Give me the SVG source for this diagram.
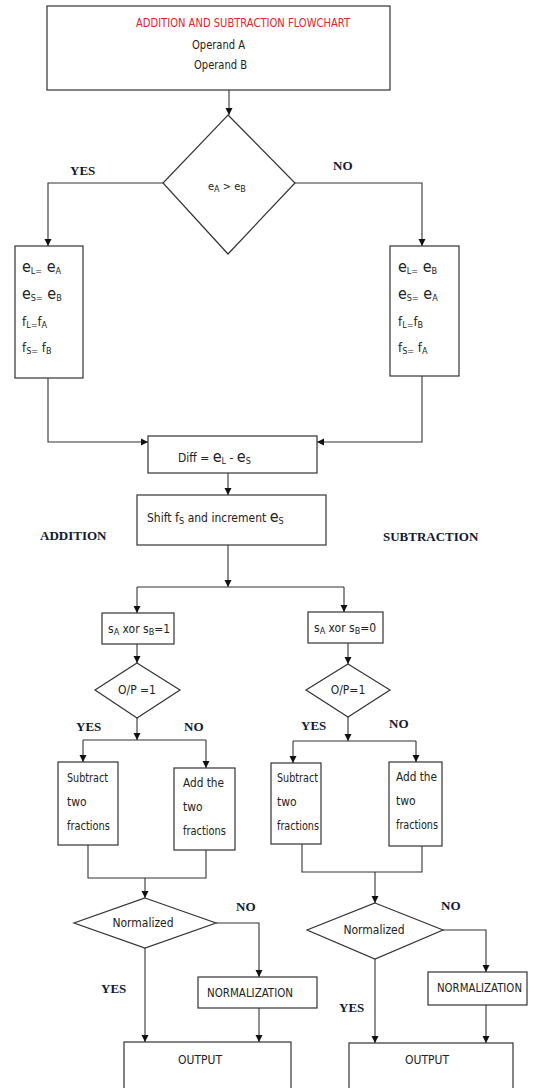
<svg xmlns="http://www.w3.org/2000/svg" width="544" height="1088" viewBox="0 0 544 1088">
<style>
.box{fill:#fff;stroke:#333;stroke-width:1.2}
.ln{fill:none;stroke:#333;stroke-width:1.1}
.t{font-family:"Liberation Sans Narrow","DejaVu Sans Condensed","Liberation Sans",Arial,sans-serif;font-stretch:condensed;font-size:12px;fill:#222}
.e{font-size:16px}
.f{font-size:13px}
.s{font-size:9px}
.lb{font-family:"Liberation Serif","Times New Roman",serif;font-weight:bold;font-size:13px;fill:#111a33}
</style>
<defs>
<marker id="ar" markerWidth="8" markerHeight="8" refX="7" refY="4" orient="auto" markerUnits="userSpaceOnUse">
<path d="M0,0.5 L7,4 L0,7.5 z" fill="#111"/>
</marker>
</defs>
<rect width="544" height="1088" fill="#fff"/>

<g id="connectors">
<path class="ln" d="M229,90 V115" marker-end="url(#ar)"/>
<path class="ln" d="M163,183 H48 V246" marker-end="url(#ar)"/>
<path class="ln" d="M295,183 H422 V246" marker-end="url(#ar)"/>
<path class="ln" d="M48,378 V442 H148" marker-end="url(#ar)"/>
<path class="ln" d="M422,376 V442 H317" marker-end="url(#ar)"/>
<path class="ln" d="M228,473 V495" marker-end="url(#ar)"/>
<path class="ln" d="M228,545 V587" marker-end="url(#ar)"/>
<path class="ln" d="M137,587 H344"/>
<path class="ln" d="M137,587 V613" marker-end="url(#ar)"/>
<path class="ln" d="M344,587 V612" marker-end="url(#ar)"/>
<path class="ln" d="M137,644 V663" marker-end="url(#ar)"/>
<path class="ln" d="M348,643 V664" marker-end="url(#ar)"/>
<path class="ln" d="M137,718 V740" marker-end="url(#ar)"/>
<path class="ln" d="M83,740 H206"/>
<path class="ln" d="M83,740 V762" marker-end="url(#ar)"/>
<path class="ln" d="M206,740 V768" marker-end="url(#ar)"/>
<path class="ln" d="M348,717 V741" marker-end="url(#ar)"/>
<path class="ln" d="M293,741 H416"/>
<path class="ln" d="M293,741 V763" marker-end="url(#ar)"/>
<path class="ln" d="M416,741 V762" marker-end="url(#ar)"/>
<path class="ln" d="M88,845 V878 H206 V850"/>
<path class="ln" d="M145,878 V898" marker-end="url(#ar)"/>
<path class="ln" d="M302,844 V872 H422 V846"/>
<path class="ln" d="M375,872 V903" marker-end="url(#ar)"/>
<path class="ln" d="M216,923 H259 V977" marker-end="url(#ar)"/>
<path class="ln" d="M145,948 V1042" marker-end="url(#ar)"/>
<path class="ln" d="M259,1008 V1042" marker-end="url(#ar)"/>
<path class="ln" d="M443,930 H486 V972" marker-end="url(#ar)"/>
<path class="ln" d="M375,959 V1043" marker-end="url(#ar)"/>
<path class="ln" d="M486,1005 V1043" marker-end="url(#ar)"/>
</g>

<g id="start">
<rect class="box" x="47" y="6" width="343" height="84"/>
<text class="t" x="136" y="27" style="fill:#e8232a" textLength="214" lengthAdjust="spacingAndGlyphs">ADDITION AND SUBTRACTION  FLOWCHART</text>
<text class="t" x="192" y="49" textLength="53" lengthAdjust="spacingAndGlyphs">Operand A</text>
<text class="t" x="194" y="69" textLength="53" lengthAdjust="spacingAndGlyphs">Operand B</text>
</g>

<g id="compare">
<polygon class="box" points="228,115 295,183 228,254 163,183"/>
<text class="t" x="208" y="190" style="font-size:11px">e<tspan class="s" dy="2">A</tspan><tspan dy="-2"> &gt; e</tspan><tspan class="s" dy="2">B</tspan></text>
</g>

<g id="yesBox">
<rect class="box" x="15" y="246" width="68" height="132"/>
<text class="t" x="22" y="272"><tspan class="e">e</tspan><tspan class="s" dy="2">L=</tspan><tspan class="e" dy="-2"> e</tspan><tspan class="s" dy="2">A</tspan></text>
<text class="t" x="22" y="299"><tspan class="e">e</tspan><tspan class="s" dy="2">S=</tspan><tspan class="e" dy="-2"> e</tspan><tspan class="s" dy="2">B</tspan></text>
<text class="t" x="22" y="326"><tspan class="f">f</tspan><tspan class="s" dy="2">L=</tspan><tspan class="f" dy="-2">f</tspan><tspan class="s" dy="2">A</tspan></text>
<text class="t" x="22" y="352"><tspan class="f">f</tspan><tspan class="s" dy="2">S=</tspan><tspan class="f" dy="-2"> f</tspan><tspan class="s" dy="2">B</tspan></text>
</g>

<g id="noBox">
<rect class="box" x="390" y="246" width="69" height="130"/>
<text class="t" x="398" y="272"><tspan class="e">e</tspan><tspan class="s" dy="2">L=</tspan><tspan class="e" dy="-2"> e</tspan><tspan class="s" dy="2">B</tspan></text>
<text class="t" x="398" y="299"><tspan class="e">e</tspan><tspan class="s" dy="2">S=</tspan><tspan class="e" dy="-2"> e</tspan><tspan class="s" dy="2">A</tspan></text>
<text class="t" x="398" y="326"><tspan class="f">f</tspan><tspan class="s" dy="2">L=</tspan><tspan class="f" dy="-2">f</tspan><tspan class="s" dy="2">B</tspan></text>
<text class="t" x="398" y="352"><tspan class="f">f</tspan><tspan class="s" dy="2">S=</tspan><tspan class="f" dy="-2"> f</tspan><tspan class="s" dy="2">A</tspan></text>
</g>

<g id="diff">
<rect class="box" x="148" y="436" width="169" height="37"/>
<text class="t" x="178" y="462">Diff = <tspan class="e">e</tspan><tspan class="s" dy="2">L</tspan><tspan dy="-2"> - </tspan><tspan class="e">e</tspan><tspan class="s" dy="2">S</tspan></text>
</g>

<g id="shift">
<rect class="box" x="137" y="495" width="189" height="50"/>
<text class="t" x="147" y="522">Shift  <tspan class="f">f</tspan><tspan class="s" dy="2">S</tspan><tspan dy="-2"> and increment </tspan><tspan class="e">e</tspan><tspan class="s" dy="2">S</tspan></text>
</g>

<g id="labels">
<text class="lb" x="70" y="175">YES</text>
<text class="lb" x="333" y="170">NO</text>
<text class="lb" x="40" y="540">ADDITION</text>
<text class="lb" x="383" y="541">SUBTRACTION</text>
<text class="lb" x="76" y="731">YES</text>
<text class="lb" x="184" y="731">NO</text>
<text class="lb" x="301" y="730">YES</text>
<text class="lb" x="389" y="728">NO</text>
<text class="lb" x="236" y="911">NO</text>
<text class="lb" x="101" y="993">YES</text>
<text class="lb" x="441" y="910">NO</text>
<text class="lb" x="339" y="1012">YES</text>
</g>

<g id="xor1">
<rect class="box" x="102" y="613" width="72" height="31"/>
<text class="t" x="108" y="633">s<tspan class="s" dy="2">A</tspan><tspan dy="-2"> xor s</tspan><tspan class="s" dy="2">B</tspan><tspan dy="-2">=1</tspan></text>
</g>
<g id="xor0">
<rect class="box" x="308" y="612" width="75" height="31"/>
<text class="t" x="314" y="632">s<tspan class="s" dy="2">A</tspan><tspan dy="-2"> xor s</tspan><tspan class="s" dy="2">B</tspan><tspan dy="-2">=0</tspan></text>
</g>

<g id="op1">
<polygon class="box" points="137,663 180,690 137,718 95,690"/>
<text class="t" x="137" y="694" text-anchor="middle">O/P =1</text>
</g>
<g id="op0">
<polygon class="box" points="348,664 390,690 348,717 306,690"/>
<text class="t" x="348" y="694" text-anchor="middle">O/P=1</text>
</g>

<g id="sub1">
<rect class="box" x="58" y="762" width="60" height="83"/>
<text class="t" x="67" y="782" textLength="41" lengthAdjust="spacingAndGlyphs">Subtract</text>
<text class="t" x="67" y="806">two</text>
<text class="t" x="67" y="830" textLength="43" lengthAdjust="spacingAndGlyphs">fractions</text>
</g>
<g id="add1">
<rect class="box" x="174" y="768" width="61" height="82"/>
<text class="t" x="183" y="787" textLength="41" lengthAdjust="spacingAndGlyphs">Add the</text>
<text class="t" x="183" y="811">two</text>
<text class="t" x="183" y="835" textLength="43" lengthAdjust="spacingAndGlyphs">fractions</text>
</g>
<g id="sub0">
<rect class="box" x="271" y="763" width="50" height="81"/>
<text class="t" x="277" y="782" textLength="41" lengthAdjust="spacingAndGlyphs">Subtract</text>
<text class="t" x="277" y="806">two</text>
<text class="t" x="277" y="830" textLength="42" lengthAdjust="spacingAndGlyphs">fractions</text>
</g>
<g id="add0">
<rect class="box" x="389" y="762" width="53" height="84"/>
<text class="t" x="396" y="781" textLength="41" lengthAdjust="spacingAndGlyphs">Add the</text>
<text class="t" x="396" y="805">two</text>
<text class="t" x="396" y="829" textLength="42" lengthAdjust="spacingAndGlyphs">fractions</text>
</g>

<g id="norm1">
<polygon class="box" points="145,898 216,923 145,948 74,923"/>
<text class="t" x="143" y="927" text-anchor="middle">Normalized</text>
</g>
<g id="norm0">
<polygon class="box" points="375,903 443,930 375,959 307,930"/>
<text class="t" x="374" y="934" text-anchor="middle">Normalized</text>
</g>

<g id="normalization1">
<rect class="box" x="198" y="977" width="119" height="31"/>
<text class="t" x="207" y="997" textLength="86" lengthAdjust="spacingAndGlyphs">NORMALIZATION</text>
</g>
<g id="normalization0">
<rect class="box" x="428" y="972" width="99" height="33"/>
<text class="t" x="437" y="992" textLength="85" lengthAdjust="spacingAndGlyphs">NORMALIZATION</text>
</g>

<g id="out1">
<rect class="box" x="124" y="1042" width="167" height="60"/>
<text class="t" x="200" y="1064" text-anchor="middle">OUTPUT</text>
</g>
<g id="out0">
<rect class="box" x="349" y="1043" width="164" height="60"/>
<text class="t" x="427" y="1064" text-anchor="middle">OUTPUT</text>
</g>
</svg>
